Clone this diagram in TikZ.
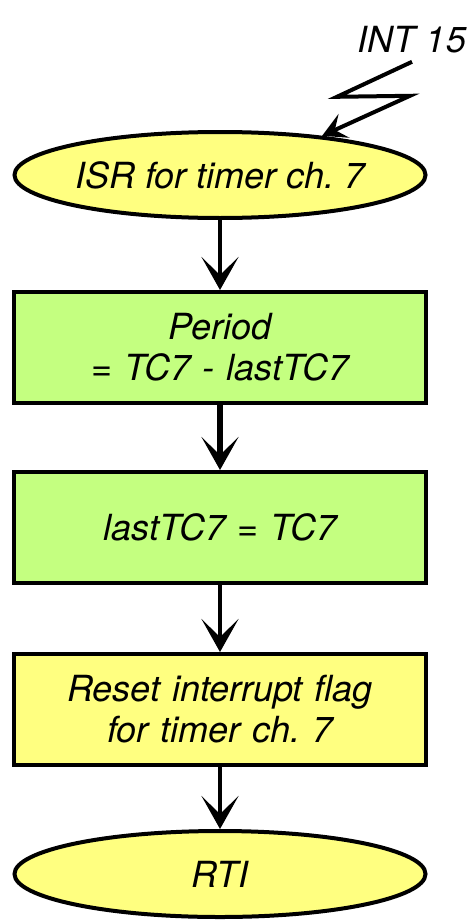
\documentclass[tikz,border=0pt]{standalone}
\usepackage{fontspec}
\setmainfont{TeX Gyre Heros}
\usetikzlibrary{shapes.geometric, arrows.meta, positioning}
\frenchspacing

\definecolor{procyellow}{RGB}{255,255,128}
\definecolor{procgreen}{RGB}{196,255,128}

\begin{document}
\begin{tikzpicture}[
  node distance=33pt,
  terminal/.style={ellipse, draw, line width=2pt, fill=procyellow, minimum width=205.5pt, minimum height=43pt, inner sep=0pt, font=\fontsize{18}{20.5}\selectfont\itshape},
  process/.style={rectangle, draw, line width=2pt, fill=procgreen, text width=200pt, align=center, minimum width=206pt, minimum height=55.5pt, inner sep=0pt, font=\fontsize{18}{20.5}\selectfont\itshape},
  arrowstyle/.style={-{Stealth[length=16.5pt, width=18.5pt, inset=9pt]}, line width=2.2pt},
  zap/.style={-{Stealth[length=12pt, width=13pt, inset=5pt]}, line width=2pt, line join=miter}
]

\useasboundingbox (0,0) rectangle (235pt,-460pt);

\node[terminal] (isr) at (110pt,-87.5pt) {ISR for timer ch. 7};
\node[process, below=35pt of isr] (period) {Period\\ = TC7 - lastTC7};
\node[process, below=32.5pt of period] (lasttc) {lastTC7 = TC7};
\node[process, fill=procyellow, below=33.5pt of lasttc] (reset) {Reset interrupt flag\\ for timer ch. 7};
\node[terminal, below=31pt of reset] (rti) {RTI};

\node[inner sep=0pt, font=\fontsize{18}{20.5}\selectfont\itshape] (int) at (206pt,-20pt) {INT 15};

% interrupt zap
\draw[zap] ([yshift=-4pt]int.south) -- ++(-37.5pt,-17.5pt) -- ++(36.5pt,0.5pt) -- (isr.21);

\draw[arrowstyle] (isr) -- (period);
\draw[arrowstyle, line width=3.3pt] (period) -- (lasttc);
\draw[arrowstyle] (lasttc) -- (reset);
\draw[arrowstyle] (reset) -- (rti);

\end{tikzpicture}
\end{document}
